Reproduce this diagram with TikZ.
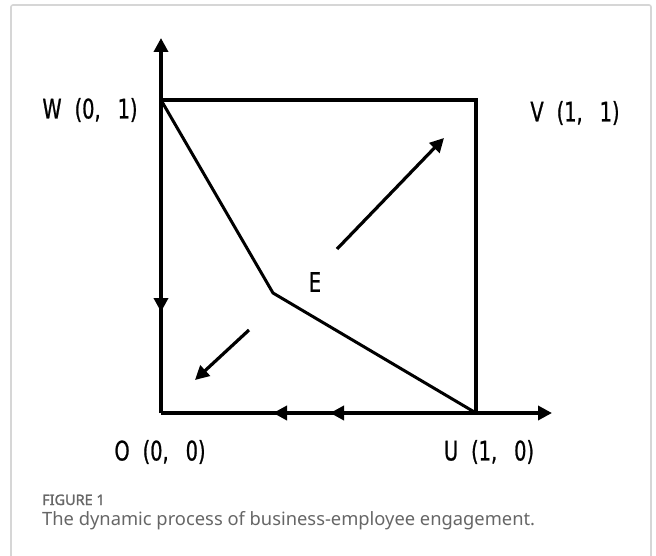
\documentclass[tikz,border=0pt]{standalone}
\usepackage{fontspec}
\setmainfont{Noto Sans}
\newfontfamily\labfont[FakeStretch=0.8,FakeBold=0.8]{DejaVu Sans Condensed}
\newfontfamily\figfont[FakeBold=1.5]{Noto Sans}
\usetikzlibrary{arrows.meta}
\definecolor{framegray}{HTML}{D6D6D6}
\definecolor{capgray}{HTML}{666666}
% point label with wide gaps
\newcommand\pairlab[3]{#1\hspace{13bp}(#2,\hspace{17bp}#3)}
\begin{document}
\begin{tikzpicture}[x=1bp, y=-1bp,
  line/.style={line width=3.6bp, -{Triangle[length=14bp,width=14bp]}},
  edge/.style={line width=3.6bp, line cap=rect},
  lab/.style={font=\labfont\fontsize{27}{30}\selectfont, inner sep=0pt},
  captext/.style={anchor=base west, inner sep=0pt, text=capgray}
]
\useasboundingbox (0,0) rectangle (656,556);
% outer frame
\draw[framegray, line width=1.6bp, rounded corners=2bp] (11,556) -- (11,5) -- (651,5) -- (651,556);

% corners of the unit square
\coordinate (O) at (161,413);
\coordinate (U) at (476,413);
\coordinate (V) at (476,100);
\coordinate (W) at (161,100);
\coordinate (E) at (273,293);
% axis ends and flow marks
\coordinate (yend) at (161,38);
\coordinate (xend) at (552,413);
\coordinate (dn)   at (161,312);
\coordinate (lf1)  at (330,413);
\coordinate (lf2)  at (273,413);
\coordinate (up0)  at (337,249);
\coordinate (up1)  at (444,138);
\coordinate (lo0)  at (249,330);
\coordinate (lo1)  at (195,380);

\node[lab] (labW) at (90,110)  {\pairlab{W}{0}{1}};
\node[lab] (labV) at (575,113) {\pairlab{V}{1}{1}};
\node[lab] (labO) at (160,452) {\pairlab{O}{0}{0}};
\node[lab] (labU) at (489,452) {\pairlab{U}{1}{0}};
\node[lab] (labE) at (315,282) {E};

\draw[line](O)--(yend); \draw[line](O)--(xend);
\draw[edge](W)--(V)--(U);
\draw[line width=3bp, line join=miter](W)--(E)--(U);
\draw[line](W)--(dn);
\draw[line](U)--(lf1); \draw[line](lf1)--(lf2);
\draw[line, line width=3.2bp](up0)--(up1);
\draw[line, line width=3.2bp](lo0)--(lo1);

\node[captext, font=\figfont\fontsize{14.5}{16}\selectfont] (fig) at (42,505) {FIGURE 1};
\node[captext, font=\fontsize{18.4}{20}\selectfont] (txt) at (42,525)
  {The dynamic process of business-employee engagement.};
\end{tikzpicture}
\end{document}
